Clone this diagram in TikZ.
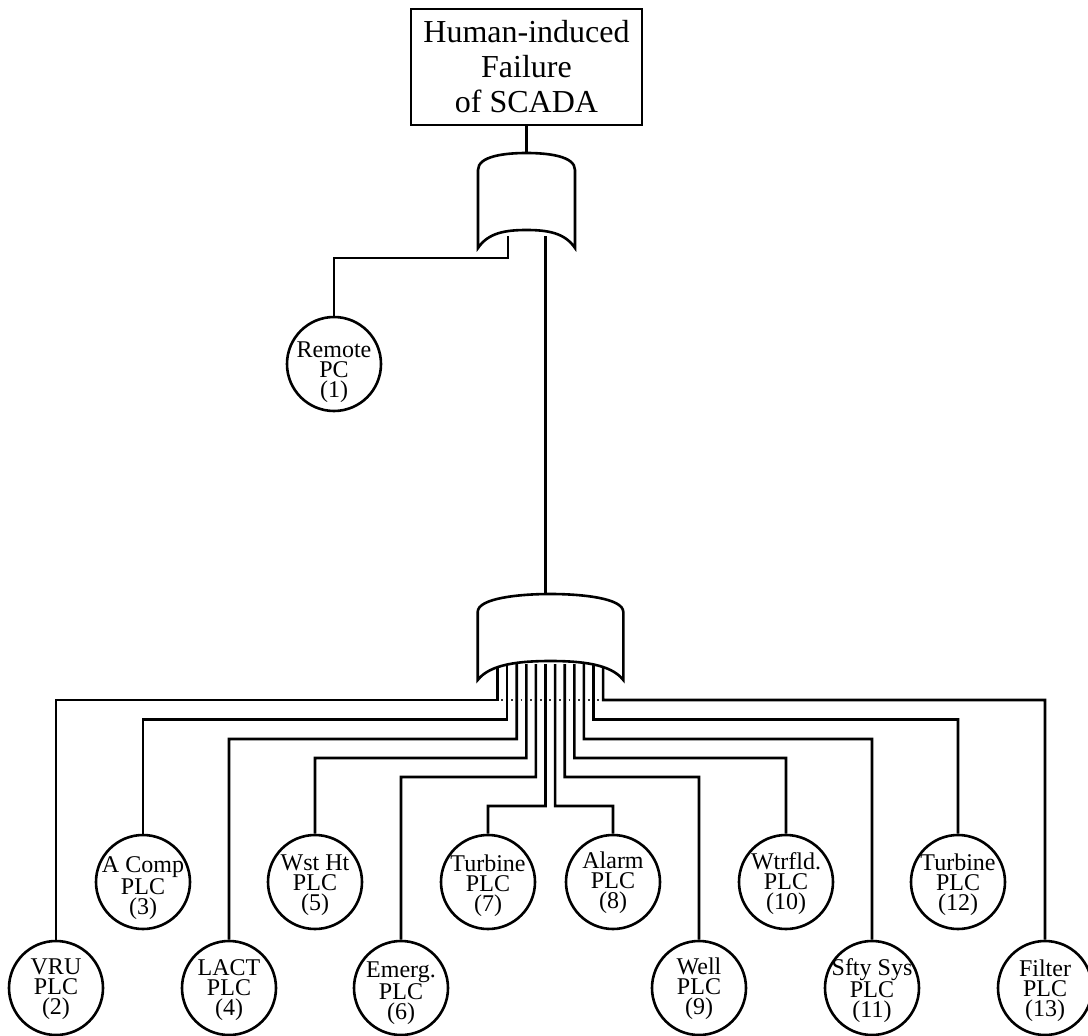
\documentclass[tikz,border=0pt]{standalone}
\usepackage{fontspec}
\setmainfont{Liberation Serif}
\begin{document}
\begin{tikzpicture}[x=1pt,y=-1pt,
  ln/.style={line width=2.6pt, line join=miter},
  topbox/.style={draw, line width=2.6pt, minimum width=231pt, minimum height=116pt, inner sep=0pt, align=center, font=\fontsize{32}{35}\selectfont},
  plc/.style={draw, circle, line width=2.6pt, minimum size=94pt, inner sep=0pt},
  plct/.style={inner sep=0pt, align=center, font=\fontsize{24}{20}\selectfont},
  gate/.style={draw, fill=white, line width=2.6pt, line join=miter}
]
\useasboundingbox (0,0) rectangle (1088,1036);

% top event
\node[topbox] (top) at (526.5,67) {Human-induced\\Failure\\of SCADA};

% gate ports
\coordinate (gAin) at (526.5,155);
\coordinate (gAoutL) at (508,236);
\coordinate (gAoutR) at (545.5,236);
\coordinate (gBin) at (545.5,597);
\foreach \i [evaluate=\i as \xx using 497.5+9.6*\i] in {0,...,11}
  \coordinate (lo\i) at (\xx,664);

% basic events
\node[plc] (c1) at (334,364) {};
\node[plc] (c2) at (56,988) {};
\node[plc] (c3) at (143,882) {};
\node[plc] (c4) at (229,988) {};
\node[plc] (c5) at (315,882) {};
\node[plc] (c6) at (401,988) {};
\node[plc] (c7) at (488,882) {};
\node[plc] (c8) at (613,882) {};
\node[plc] (c9) at (699,988) {};
\node[plc] (c10) at (786,882) {};
\node[plc] (c11) at (872,988) {};
\node[plc] (c12) at (958,882) {};
\node[plc] (c13) at (1045,988) {};

\node[plct] (t1) at ([yshift=-8pt]c1.center) {Remote\\PC\\(1)};
\node[plct] (t2) at ([yshift=-1pt]c2.center) {VRU\\PLC\\(2)};
\node[plct] (t3) at ([yshift=-6pt]c3.center) {A Comp\\PLC\\(3)};
\node[plct] (t4) at ([yshift=-2pt]c4.center) {LACT\\PLC\\(4)};
\node[plct] (t5) at ([yshift=-3pt]c5.center) {Wst Ht\\PLC\\(5)};
\node[plct] (t6) at ([yshift=-5pt]c6.center) {Emerg.\\PLC\\(6)};
\node[plct] (t7) at ([yshift=-4pt]c7.center) {Turbine\\PLC\\(7)};
\node[plct] (t8) at ([yshift=-1pt]c8.center) {Alarm\\PLC\\(8)};
\node[plct] (t9) at ([yshift=-1pt]c9.center) {Well\\PLC\\(9)};
\node[plct] (t10) at ([yshift=-2pt]c10.center) {Wtrfld.\\PLC\\(10)};
\node[plct] (t11) at ([yshift=-3pt]c11.center) {Sfty Sys\\PLC\\(11)};
\node[plct] (t12) at ([yshift=-3pt]c12.center) {Turbine\\PLC\\(12)};
\node[plct] (t13) at ([yshift=-3pt]c13.center) {Filter\\PLC\\(13)};

% connectors
\draw[ln] (top.south) -- (gAin);
\draw[ln] (gAoutL) -- (508,258) -| (c1.north);
\draw[ln] (gAoutR) -- (gBin);

\draw[ln] (lo0) -- (497.5,700) -| (c2.north);
\draw[ln] (lo1) -- (507.1,719.5) -| (c3.north);
\draw[ln] (lo2) -- (516.7,739) -| (c4.north);
\draw[ln] (lo3) -- (526.3,758) -| (c5.north);
\draw[ln] (lo4) -- (535.9,777) -| (c6.north);
\draw[ln] (lo5) -- (545.5,806) -| (c7.north);
\draw[ln] (lo6) -- (555.1,806) -| (c8.north);
\draw[ln] (lo7) -- (564.7,777) -| (c9.north);
\draw[ln] (lo8) -- (574.3,758) -| (c10.north);
\draw[ln] (lo9) -- (583.9,739) -| (c11.north);
\draw[ln] (lo10) -- (593.5,719.5) -| (c12.north);
\draw[ln] (lo11) -- (603.1,700) -| (c13.north);

% faint dotted trace between the wires
\foreach \i in {0,...,10}
  \draw[line width=1.2pt, black!80] ({501.4+9.6*\i},700) -- ++(1.8,0);

% OR gates
\draw[gate] (478,248) -- (478,170) .. controls (478,156) and (505,153) .. (526.5,153)
  .. controls (548,153) and (575,156) .. (575,170) -- (575,248)
  .. controls (565,233) and (548,230) .. (526.5,230)
  .. controls (505,230) and (488,233) .. (478,248) -- cycle;
\draw[gate] (477.7,680) -- (477.7,612) .. controls (477.7,598) and (520,594) .. (550.5,594)
  .. controls (581,594) and (623.3,598) .. (623.3,612) -- (623.3,680)
  .. controls (611,664) and (581,661) .. (550.5,661)
  .. controls (520,661) and (490,664) .. (477.7,680) -- cycle;
\end{tikzpicture}
\end{document}
